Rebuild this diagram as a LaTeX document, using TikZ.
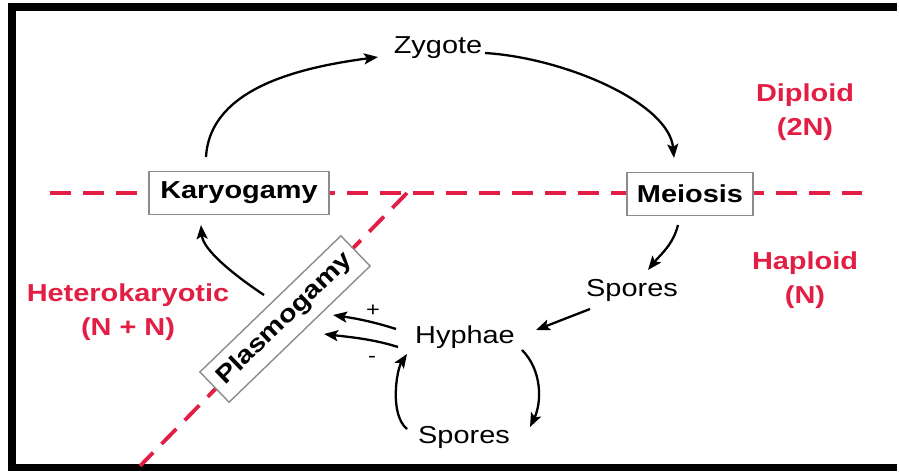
\documentclass[tikz,border=0pt]{standalone}
\usepackage{fontspec}
\setmainfont{Liberation Sans}[FakeStretch=1.18]
\usetikzlibrary{arrows.meta}
\definecolor{cred}{RGB}{226,30,68}
\definecolor{boxgray}{RGB}{140,140,140}
\tikzset{
  lbl/.style={font=\fontsize{24.5}{28}\selectfont, inner sep=2pt},
  redlbl/.style={font=\fontsize{24.5}{34}\selectfont\bfseries, text=cred, align=center, inner sep=0pt},
  stagebox/.style={draw=boxgray, line width=1.4pt, fill=white, font=\fontsize{24.5}{28}\selectfont\bfseries, inner sep=0pt},
  arr/.style={line width=2.3pt, -{Stealth[length=14pt,width=11pt,inset=3pt]}},
  reddash/.style={cred, line width=3.8pt, dash pattern=on 21pt off 12pt}
}
\begin{document}
\begin{tikzpicture}[x=1pt,y=-1pt]
\fill[white] (0,0) rectangle (899,471);
\useasboundingbox (0,0) rectangle (899,471);
% frame
\fill[black] (8,3) rectangle (897,11);
\fill[black] (8,3) rectangle (16,471);
\fill[black] (8,464) rectangle (897,471);
% red dashed lines
\draw[reddash] (50,193) -- (862,193);
\draw[reddash] (407,193) -- (140,466);
% nodes
\node[stagebox, minimum width=180pt, minimum height=43pt] (kary) at (239,193) {Karyogamy};
\node[stagebox, minimum width=126pt, minimum height=43pt] (mei) at (690,194) {Meiosis};
\node[stagebox, minimum width=196pt, minimum height=42pt, rotate=44] (plas) at (285,319) {Plasmogamy};
\node[lbl] (zyg) at (438,48) {Zygote};
\node[lbl] (spu) at (632,290) {Spores};
\node[lbl] (hyp) at (465,337) {Hyphae};
\node[lbl] (spl) at (464,437) {Spores};
\node[redlbl] (dip) at (805,112) {Diploid\\(2N)};
\node[redlbl] (hap) at (805,280) {Haploid\\(N)};
\node[redlbl] (het) at (128,312) {Heterokaryotic\\(N + N)};
\node[font=\fontsize{20}{24}\selectfont, inner sep=0pt] (plus) at (373,311) {+};
\node[font=\fontsize{20}{24}\selectfont, inner sep=0pt] (minus) at (372,359) {-};
% arrows
\draw[arr] ([shift={(-33,-36)}]kary.center) .. controls +(4,-70) and +(-75,10) .. ([shift={(-60,9)}]zyg.center);
\draw[arr] ([shift={(47,5)}]zyg.center) .. controls +(80,5) and +(-5,-55) .. ([shift={(-16,-36)}]mei.center);
\draw[arr] ([shift={(-12,31)}]mei.center) .. controls +(-5,20) and +(12,-15) .. ([shift={(16,-20)}]spu.center);
\draw[arr] ([shift={(-42,19)}]spu.center) -- ([shift={(71,-7)}]hyp.center);
\draw[arr] ([shift={(-69,-8)}]hyp.center) .. controls +(-25,-8) and +(20,3) .. ([shift={(-132,-22)}]hyp.center);
\draw[arr] ([shift={(-67,10)}]hyp.center) .. controls +(-25,-8) and +(25,3) .. ([shift={(-141,-3)}]hyp.center);
\draw[arr] ([shift={(57,13)}]hyp.center) .. controls +(20,20) and +(12,-25) .. ([shift={(66,-10)}]spl.center);
\draw[arr] ([shift={(-57,-8)}]spl.center) .. controls +(-18,-15) and +(-10,15) .. ([shift={(-58,17)}]hyp.center);
\draw[arr] ([shift={(-21,-24)}]plas.center) .. controls +(-30,-20) and +(2,25) .. ([shift={(-38,32)}]kary.center);
\end{tikzpicture}
\end{document}
